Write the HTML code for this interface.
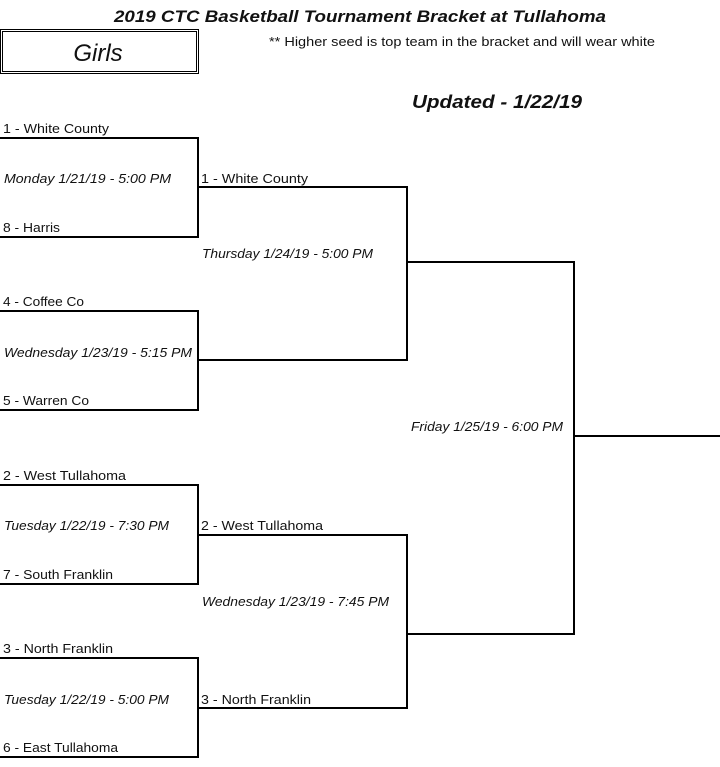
<!DOCTYPE html>
<html><head><meta charset="utf-8"><style>
html,body{margin:0;padding:0;background:#fff;width:720px;height:767px;overflow:hidden}
svg{display:block}
text{font-family:"Liberation Sans",sans-serif;fill:#111;font-size:12.5px}
.i{font-style:italic}
</style></head><body>
<svg width="720" height="767" viewBox="0 0 720 767">
<text x="360" y="22" text-anchor="middle" font-weight="bold" font-style="italic" textLength="492" lengthAdjust="spacingAndGlyphs" style="font-size:16.5px">2019 CTC Basketball Tournament Bracket at Tullahoma</text>
<rect x="0.5" y="29.5" width="198" height="44" fill="none" stroke="#000" stroke-width="1"/>
<rect x="2.5" y="31.5" width="194" height="40" fill="none" stroke="#000" stroke-width="1"/>
<text x="98" y="61" text-anchor="middle" class="i" style="font-size:24px">Girls</text>
<text x="269" y="46" textLength="386" lengthAdjust="spacingAndGlyphs" style="font-size:12.5px">** Higher seed is top team in the bracket and will wear white</text>
<text x="412" y="108" font-weight="bold" font-style="italic" textLength="170" lengthAdjust="spacingAndGlyphs" style="font-size:18px">Updated - 1/22/19</text>
<g stroke="#000" stroke-width="2" fill="none">
<path d="M0 138H198V237H0"/>
<path d="M0 311H198V410H0"/>
<path d="M0 485H198V584H0"/>
<path d="M0 658H198V757H0"/>
<path d="M198 187H407V360H198"/>
<path d="M198 535H407V708H198"/>
<path d="M407 262H574V634H407"/>
<path d="M574 436H720"/>
</g>
<text x="3" y="133" textLength="106" lengthAdjust="spacingAndGlyphs">1 - White County</text>
<text x="3" y="232" textLength="57" lengthAdjust="spacingAndGlyphs">8 - Harris</text>
<text x="3" y="306" textLength="81" lengthAdjust="spacingAndGlyphs">4 - Coffee Co</text>
<text x="3" y="405" textLength="86" lengthAdjust="spacingAndGlyphs">5 - Warren Co</text>
<text x="3" y="480" textLength="123" lengthAdjust="spacingAndGlyphs">2 - West Tullahoma</text>
<text x="3" y="579" textLength="110" lengthAdjust="spacingAndGlyphs">7 - South Franklin</text>
<text x="3" y="653" textLength="110" lengthAdjust="spacingAndGlyphs">3 - North Franklin</text>
<text x="3" y="752" textLength="115" lengthAdjust="spacingAndGlyphs">6 - East Tullahoma</text>
<text class="i" x="4" y="183" textLength="167" lengthAdjust="spacingAndGlyphs">Monday 1/21/19 - 5:00 PM</text>
<text class="i" x="4" y="357" textLength="188" lengthAdjust="spacingAndGlyphs">Wednesday 1/23/19 - 5:15 PM</text>
<text class="i" x="4" y="530" textLength="165" lengthAdjust="spacingAndGlyphs">Tuesday 1/22/19 - 7:30 PM</text>
<text class="i" x="4" y="704" textLength="165" lengthAdjust="spacingAndGlyphs">Tuesday 1/22/19 - 5:00 PM</text>
<text x="201" y="183" textLength="107" lengthAdjust="spacingAndGlyphs">1 - White County</text>
<text x="201" y="530" textLength="122" lengthAdjust="spacingAndGlyphs">2 - West Tullahoma</text>
<text x="201" y="704" textLength="110" lengthAdjust="spacingAndGlyphs">3 - North Franklin</text>
<text class="i" x="202" y="258" textLength="171" lengthAdjust="spacingAndGlyphs">Thursday 1/24/19 - 5:00 PM</text>
<text class="i" x="202" y="606" textLength="187" lengthAdjust="spacingAndGlyphs">Wednesday 1/23/19 - 7:45 PM</text>
<text class="i" x="411" y="431" textLength="152" lengthAdjust="spacingAndGlyphs">Friday 1/25/19 - 6:00 PM</text>
</svg>
</body></html>
